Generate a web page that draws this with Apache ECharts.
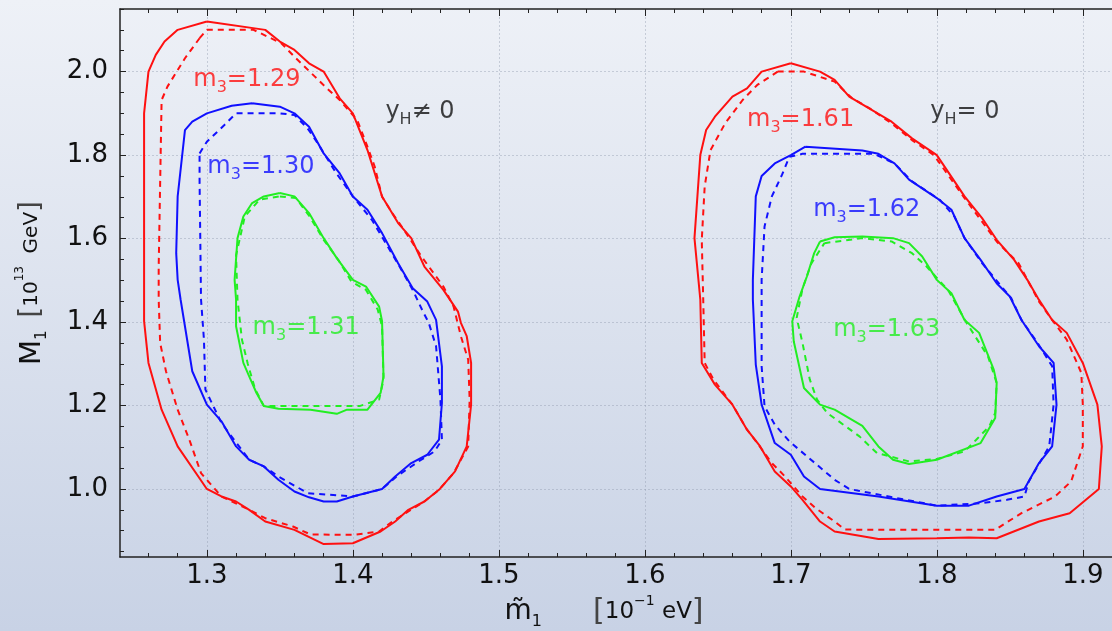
<!DOCTYPE html>
<html>
<head>
<meta charset="utf-8">
<script src="https://cdn.jsdelivr.net/npm/echarts@6/dist/echarts.min.js"></script>
<style>
html, body { margin: 0; padding: 0; }
#main { width: 1112px; height: 631px; }
</style>
</head>
<body>
<div id="main"></div>
<script>
// axis ticks / labels
var xLabels = [1.3, 1.4, 1.5, 1.6, 1.7, 1.8, 1.9]
var yLabels = [1.0, 1.2, 1.4, 1.6, 1.8, 2.0]
var xMinor = []
for (var i = 62; i <= 96; i++) xMinor.push(+(i * 0.02).toFixed(2))
var yMinor = []
for (var j = 17; j <= 43; j++) yMinor.push(+(j * 0.05).toFixed(2))

// y_H != 0 contours  [m1, M1]
var red129Solid = [[1.300,2.120],[1.340,2.100],[1.350,2.072],[1.360,2.052],[1.370,2.020],[1.380,2.000],[1.391,1.936],[1.400,1.900],[1.410,1.812],[1.420,1.701],[1.431,1.637],[1.440,1.601],[1.449,1.533],[1.462,1.477],[1.472,1.425],[1.474,1.398],[1.478,1.366],[1.481,1.302],[1.481,1.202],[1.478,1.102],[1.470,1.042],[1.459,0.998],[1.449,0.970],[1.438,0.950],[1.429,0.922],[1.419,0.898],[1.400,0.870],[1.380,0.868],[1.360,0.902],[1.340,0.922],[1.329,0.950],[1.320,0.970],[1.310,0.982],[1.300,1.000],[1.280,1.102],[1.269,1.190],[1.260,1.302],[1.257,1.402],[1.257,1.900],[1.260,2.000],[1.265,2.040],[1.271,2.072],[1.280,2.100],[1.300,2.120]]
var red129Dash = [[1.295,2.080],[1.300,2.100],[1.332,2.100],[1.351,2.068],[1.361,2.032],[1.374,1.988],[1.381,1.964],[1.391,1.932],[1.403,1.884],[1.410,1.820],[1.415,1.772],[1.420,1.700],[1.427,1.661],[1.435,1.621],[1.447,1.557],[1.462,1.485],[1.469,1.437],[1.474,1.366],[1.479,1.310],[1.480,1.214],[1.479,1.102],[1.469,1.038],[1.459,0.998],[1.449,0.970],[1.427,0.922],[1.418,0.898],[1.400,0.890],[1.371,0.891],[1.359,0.910],[1.340,0.930],[1.329,0.950],[1.310,0.982],[1.296,1.038],[1.288,1.118],[1.280,1.190],[1.272,1.282],[1.268,1.350],[1.267,1.454],[1.267,1.533],[1.269,1.932],[1.273,1.964],[1.285,2.032],[1.295,2.080]]
var blue130Solid = [[1.331,1.924],[1.350,1.916],[1.360,1.900],[1.370,1.868],[1.380,1.804],[1.391,1.756],[1.400,1.701],[1.410,1.669],[1.420,1.613],[1.431,1.541],[1.441,1.481],[1.451,1.449],[1.457,1.405],[1.461,1.294],[1.461,1.206],[1.459,1.118],[1.451,1.082],[1.440,1.062],[1.429,1.030],[1.420,1.000],[1.400,0.982],[1.389,0.970],[1.380,0.970],[1.370,0.980],[1.360,0.994],[1.349,1.022],[1.339,1.054],[1.329,1.070],[1.320,1.102],[1.310,1.162],[1.300,1.202],[1.290,1.282],[1.282,1.454],[1.280,1.501],[1.279,1.565],[1.280,1.701],[1.285,1.860],[1.290,1.880],[1.300,1.900],[1.317,1.918],[1.331,1.924]]
var blue130Dash = [[1.295,1.804],[1.300,1.832],[1.312,1.872],[1.320,1.900],[1.350,1.900],[1.360,1.896],[1.369,1.864],[1.376,1.828],[1.388,1.760],[1.400,1.701],[1.413,1.645],[1.432,1.533],[1.441,1.477],[1.448,1.425],[1.452,1.398],[1.457,1.342],[1.460,1.214],[1.461,1.118],[1.456,1.090],[1.445,1.066],[1.430,1.030],[1.420,1.000],[1.400,0.982],[1.369,0.990],[1.349,1.030],[1.339,1.054],[1.329,1.070],[1.310,1.158],[1.299,1.238],[1.298,1.358],[1.296,1.454],[1.295,1.740],[1.295,1.804]]
var green131Solid = [[1.350,1.709],[1.360,1.701],[1.370,1.661],[1.380,1.601],[1.389,1.553],[1.400,1.501],[1.409,1.485],[1.418,1.437],[1.420,1.402],[1.421,1.270],[1.419,1.230],[1.410,1.190],[1.396,1.190],[1.389,1.180],[1.371,1.190],[1.349,1.192],[1.339,1.199],[1.334,1.230],[1.329,1.270],[1.325,1.302],[1.320,1.390],[1.320,1.454],[1.319,1.501],[1.321,1.601],[1.325,1.653],[1.331,1.685],[1.339,1.701],[1.350,1.709]]
var green131Dash = [[1.350,1.701],[1.361,1.697],[1.370,1.655],[1.380,1.597],[1.390,1.549],[1.399,1.497],[1.409,1.477],[1.417,1.430],[1.420,1.390],[1.421,1.262],[1.418,1.214],[1.405,1.199],[1.371,1.199],[1.339,1.199],[1.333,1.240],[1.328,1.300],[1.324,1.358],[1.321,1.454],[1.320,1.560],[1.326,1.653],[1.336,1.693],[1.350,1.701]]

// y_H = 0 contours
var red161Solid = [[1.700,2.020],[1.720,2.000],[1.730,1.980],[1.740,1.940],[1.769,1.880],[1.783,1.840],[1.800,1.800],[1.819,1.701],[1.831,1.649],[1.841,1.597],[1.853,1.549],[1.862,1.501],[1.870,1.453],[1.879,1.405],[1.889,1.374],[1.900,1.302],[1.910,1.202],[1.913,1.102],[1.911,1.000],[1.891,0.942],[1.870,0.922],[1.841,0.882],[1.822,0.884],[1.800,0.882],[1.760,0.880],[1.730,0.898],[1.720,0.922],[1.708,0.974],[1.700,1.006],[1.689,1.042],[1.679,1.102],[1.670,1.142],[1.660,1.202],[1.648,1.250],[1.639,1.302],[1.638,1.454],[1.634,1.601],[1.638,1.800],[1.642,1.860],[1.648,1.892],[1.660,1.940],[1.670,1.960],[1.680,2.000],[1.700,2.020]]
var red161Dash = [[1.691,2.000],[1.709,2.000],[1.730,1.976],[1.742,1.936],[1.754,1.912],[1.769,1.876],[1.783,1.836],[1.798,1.800],[1.819,1.697],[1.841,1.593],[1.856,1.541],[1.870,1.449],[1.879,1.405],[1.889,1.358],[1.899,1.278],[1.900,1.202],[1.900,1.102],[1.892,1.018],[1.881,0.982],[1.858,0.942],[1.847,0.918],[1.840,0.902],[1.749,0.902],[1.737,0.903],[1.730,0.922],[1.717,0.954],[1.708,0.982],[1.696,1.030],[1.687,1.062],[1.677,1.110],[1.670,1.142],[1.660,1.202],[1.647,1.262],[1.641,1.302],[1.640,1.454],[1.639,1.597],[1.641,1.725],[1.645,1.812],[1.655,1.876],[1.667,1.932],[1.677,1.968],[1.691,2.000]]
var blue162Solid = [[1.710,1.820],[1.749,1.811],[1.760,1.803],[1.771,1.780],[1.781,1.741],[1.800,1.697],[1.810,1.669],[1.819,1.601],[1.830,1.549],[1.841,1.493],[1.850,1.461],[1.858,1.405],[1.870,1.342],[1.880,1.302],[1.882,1.202],[1.879,1.102],[1.870,1.062],[1.860,1.000],[1.841,0.982],[1.822,0.960],[1.800,0.960],[1.760,0.982],[1.720,1.000],[1.709,1.030],[1.700,1.082],[1.689,1.110],[1.680,1.202],[1.676,1.298],[1.674,1.454],[1.674,1.501],[1.676,1.701],[1.680,1.750],[1.689,1.780],[1.700,1.800],[1.710,1.820]]
var blue162Dash = [[1.699,1.796],[1.708,1.803],[1.757,1.803],[1.771,1.780],[1.783,1.737],[1.802,1.693],[1.812,1.653],[1.819,1.601],[1.831,1.541],[1.851,1.457],[1.858,1.405],[1.869,1.350],[1.879,1.294],[1.880,1.202],[1.877,1.102],[1.863,1.018],[1.860,0.982],[1.848,0.974],[1.831,0.966],[1.800,0.960],[1.740,1.000],[1.730,1.022],[1.699,1.114],[1.689,1.154],[1.682,1.198],[1.680,1.294],[1.680,1.454],[1.680,1.501],[1.682,1.629],[1.687,1.701],[1.694,1.753],[1.699,1.796]]
var green163Solid = [[1.720,1.593],[1.730,1.603],[1.749,1.605],[1.770,1.601],[1.781,1.589],[1.790,1.557],[1.800,1.501],[1.810,1.469],[1.819,1.405],[1.829,1.374],[1.839,1.286],[1.841,1.254],[1.840,1.170],[1.830,1.110],[1.800,1.070],[1.781,1.060],[1.770,1.070],[1.760,1.102],[1.749,1.151],[1.730,1.190],[1.720,1.202],[1.709,1.242],[1.702,1.354],[1.701,1.402],[1.706,1.461],[1.711,1.509],[1.716,1.565],[1.720,1.593]]
var green163Dash = [[1.723,1.589],[1.749,1.601],[1.769,1.593],[1.783,1.565],[1.793,1.533],[1.808,1.475],[1.820,1.400],[1.835,1.318],[1.841,1.254],[1.840,1.182],[1.836,1.150],[1.827,1.118],[1.819,1.090],[1.800,1.072],[1.781,1.066],[1.759,1.086],[1.747,1.126],[1.725,1.182],[1.718,1.214],[1.713,1.262],[1.708,1.350],[1.704,1.410],[1.708,1.480],[1.714,1.540],[1.723,1.589]]

// annotations: [m1, M1, text, colour]
var notes = [
    [1.3274, 1.980, '{a|m}{s|3}{a|=1.29}', '#ff1010'],
    [1.337, 1.772, '{a|m}{s|3}{a|=1.30}', '#1010ff'],
    [1.368, 1.386, '{a|m}{s|3}{a|=1.31}', '#22ee22'],
    [1.7067, 1.884, '{a|m}{s|3}{a|=1.61}', '#ff1010'],
    [1.752, 1.668, '{a|m}{s|3}{a|=1.62}', '#1010ff'],
    [1.7657, 1.381, '{a|m}{s|3}{a|=1.63}', '#22ee22'],
    [1.446, 1.903, '{a|y}{s|H}{a|\u2260 0}', '#111111'],
    [1.8192, 1.903, '{a|y}{s|H}{a|= 0}', '#111111']
]

var FONT = 'DejaVu Sans'
var RED = '#ff1010', BLUE = '#1010ff', GREEN = '#22ee22'
var GRIDLINE = 'rgba(140,150,170,0.4)'

function contour(name, data, color, dashed) {
    return {
        name: name, type: 'line', data: data, showSymbol: false, symbol: 'none',
        xAxisIndex: 0, yAxisIndex: 0, silent: true, z: dashed ? 3 : 4,
        lineStyle: { color: color, width: 2, type: dashed ? [6, 5] : 'solid' }
    }
}

function tickOnly(pos, ticks, len, line) {
    var ax = {
        type: 'value', position: pos,
        axisLine: { show: !!line, lineStyle: { color: '#222', width: 1.5 } },
        axisTick: { show: true, inside: true, length: len, customValues: ticks, lineStyle: { color: '#222' } },
        axisLabel: { show: false }, splitLine: { show: false }
    }
    if (pos == 'left') { ax.min = 0.837; ax.max = 2.15 } else { ax.min = 1.2405; ax.max = 1.92 }
    return ax
}

var chart = echarts.init(document.getElementById('main'))
var option = {
    backgroundColor: new echarts.graphic.LinearGradient(0, 0, 0, 1, [
        { offset: 0, color: '#eef1f7' },
        { offset: 1, color: '#c8d2e5' }
    ]),
    animation: false,
    grid: { left: 120, right: 0, top: 9, bottom: 74, containLabel: false, outerBoundsMode: 'none' },
    xAxis: [
        {
            type: 'value', min: 1.2405, max: 1.92, position: 'bottom',
            name: '{a|m\u0303}{s|1}{c|       }{b|[}{c|10}{t|\u22121}{c| eV}{b|]}',
            nameLocation: 'middle', nameGap: 34,
            nameTextStyle: {
                color: '#111', padding: [0, 24, 0, 0],
                rich: {
                    a: { fontFamily: FONT, fontSize: 28, lineHeight: 36, verticalAlign: 'middle', color: '#111' },
                    s: { fontFamily: FONT, fontSize: 16, lineHeight: 16, verticalAlign: 'bottom', color: '#111' },
                    b: { fontFamily: FONT, fontSize: 30, lineHeight: 36, verticalAlign: 'middle', color: '#444' },
                    c: { fontFamily: FONT, fontSize: 23, lineHeight: 36, verticalAlign: 'middle', color: '#111' },
                    t: { fontFamily: FONT, fontSize: 14, lineHeight: 14, verticalAlign: 'top', color: '#111' }
                }
            },
            axisLine: { show: true, lineStyle: { color: '#222', width: 1.5 } },
            axisTick: { show: true, inside: true, length: 7, customValues: xLabels, lineStyle: { color: '#222' } },
            axisLabel: { customValues: xLabels, margin: 6, fontFamily: FONT, fontSize: 26, color: '#111',
                formatter: function (v) { return v.toFixed(1) } },
            splitLine: { show: true, lineStyle: { color: GRIDLINE, width: 1, type: [2, 2] } }
        },
        tickOnly('bottom', xMinor, 4, false),
        tickOnly('top', xMinor, 4, true),
        tickOnly('top', xLabels, 7, false)
    ],
    yAxis: [
        {
            type: 'value', min: 0.837, max: 2.15,
            name: '{a|M}{s|1}{c|  }{b|[}{c|10}{t|13}{c|  GeV}{b|]}',
            nameLocation: 'middle', nameRotate: 90, nameGap: 70,
            nameTextStyle: {
                color: '#111',
                rich: {
                    a: { fontFamily: FONT, fontSize: 29, lineHeight: 36, verticalAlign: 'middle', color: '#111' },
                    s: { fontFamily: FONT, fontSize: 15, lineHeight: 15, verticalAlign: 'bottom', color: '#111' },
                    b: { fontFamily: FONT, fontSize: 28, lineHeight: 36, verticalAlign: 'middle', color: '#444' },
                    c: { fontFamily: FONT, fontSize: 20, lineHeight: 36, verticalAlign: 'middle', color: '#111' },
                    t: { fontFamily: FONT, fontSize: 12, lineHeight: 12, verticalAlign: 'top', color: '#111' }
                }
            },
            axisLine: { show: true, lineStyle: { color: '#222', width: 1.5 } },
            axisTick: { show: true, inside: true, length: 6, customValues: yLabels, lineStyle: { color: '#222' } },
            axisLabel: { customValues: yLabels, margin: 12, fontFamily: FONT, fontSize: 26, color: '#111',
                formatter: function (v) { return v.toFixed(1) } },
            splitLine: { show: true, lineStyle: { color: GRIDLINE, width: 1, type: [2, 2] } }
        },
        tickOnly('left', yMinor, 4, false)
    ],
    series: [
        contour('r129d', red129Dash, RED, true),
        contour('r129', red129Solid, RED, false),
        contour('b130d', blue130Dash, BLUE, true),
        contour('b130', blue130Solid, BLUE, false),
        contour('g131d', green131Dash, GREEN, true),
        contour('g131', green131Solid, GREEN, false),
        contour('r161d', red161Dash, RED, true),
        contour('r161', red161Solid, RED, false),
        contour('b162d', blue162Dash, BLUE, true),
        contour('b162', blue162Solid, BLUE, false),
        contour('g163d', green163Dash, GREEN, true),
        contour('g163', green163Solid, GREEN, false),
        {
            type: 'scatter', symbolSize: 0, silent: true, z: 5,
            data: notes.map(function (n) {
                return {
                    value: [n[0], n[1]],
                    label: {
                        show: true, position: 'inside', formatter: n[2],
                        rich: {
                            a: { fontFamily: FONT, fontSize: 24, lineHeight: 32, verticalAlign: 'middle', color: n[3] },
                            s: { fontFamily: FONT, fontSize: 16, lineHeight: 16, verticalAlign: 'bottom', color: n[3] }
                        }
                    }
                }
            })
        }
    ]
}
chart.setOption(option)
</script>
</body>
</html>
